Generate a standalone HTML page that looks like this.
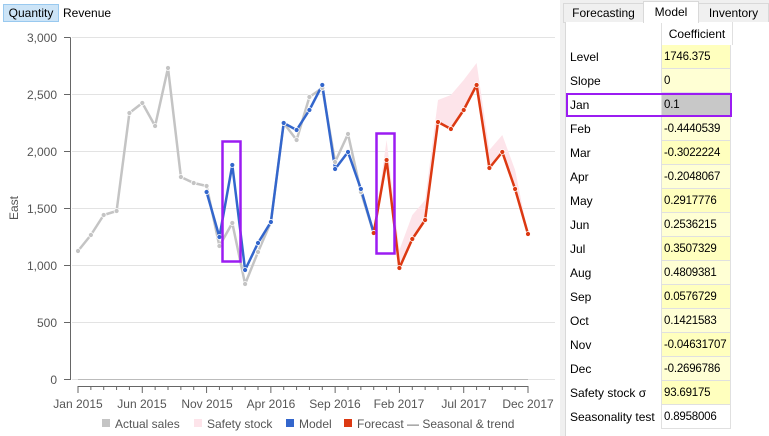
<!DOCTYPE html>
<html><head><meta charset="utf-8"><style>
body{margin:0;width:769px;height:436px;background:#fff;font-family:"Liberation Sans",sans-serif;overflow:hidden;position:relative}
.t{position:absolute;font-size:12px;color:#000}
</style></head><body>
<div style="position:absolute;left:3px;top:4px;width:54px;height:16px;background:#cce4f7;border:1px solid #99c9ef;font-size:12px;line-height:16px;text-align:center">Quantity</div>
<div class="t" style="left:63px;top:6px">Revenue</div>
<svg width="560" height="436" style="position:absolute;left:0;top:0" font-family="Liberation Sans, sans-serif">
<g stroke="#e3e3e3" stroke-width="1">
<line x1="72" x2="555" y1="37.5" y2="37.5"/><line x1="72" x2="555" y1="94.5" y2="94.5"/><line x1="72" x2="555" y1="151.5" y2="151.5"/><line x1="72" x2="555" y1="208.5" y2="208.5"/><line x1="72" x2="555" y1="265.5" y2="265.5"/><line x1="72" x2="555" y1="322.5" y2="322.5"/><line x1="72" x2="555" y1="379.5" y2="379.5"/>
</g>
<line x1="78" x2="528" y1="379.5" y2="379.5" stroke="#bbb"/>
<path d="M70.5 37.5 H64 M70.5 37.5V379.5H64" stroke="#666" fill="none"/>
<g stroke="#666"><line x1="64" x2="70" y1="94.5" y2="94.5"/><line x1="64" x2="70" y1="151.5" y2="151.5"/><line x1="64" x2="70" y1="208.5" y2="208.5"/><line x1="64" x2="70" y1="265.5" y2="265.5"/><line x1="64" x2="70" y1="322.5" y2="322.5"/></g>
<g font-size="12" fill="#555" text-anchor="end">
<text x="57" y="42">3,000</text><text x="57" y="99">2,500</text><text x="57" y="156">2,000</text><text x="57" y="213">1,500</text><text x="57" y="270">1,000</text><text x="57" y="327">500</text><text x="57" y="384">0</text>
</g>
<text x="18" y="208" font-size="12" fill="#555" transform="rotate(-90 18 208)" text-anchor="middle">East</text>
<line x1="78" x2="528" y1="386.5" y2="386.5" stroke="#666"/>
<g id="ticks" stroke="#666"></g>
<g font-size="12" fill="#555" text-anchor="middle">
<text x="78" y="408">Jan 2015</text><text x="142" y="408">Jun 2015</text><text x="207" y="408">Nov 2015</text><text x="271" y="408">Apr 2016</text><text x="335" y="408">Sep 2016</text><text x="399" y="408">Feb 2017</text><text x="464" y="408">Jul 2017</text><text x="528" y="408">Dec 2017</text>
</g>
<polygon fill="#fde4ea" points="373.7,233 386.6,140 399.4,250 412.3,215 425.1,200 438,100 450.9,95 463.7,80 476.6,63 489.4,150 502.3,135 515.1,170 528,234 515.1,189 502.3,152 489.4,168 476.6,85 463.7,110 450.9,129 438,122 425.1,220 412.3,239 399.4,268 386.6,160"/>
<g fill="none" stroke-width="2.5" stroke-linejoin="round">
<polyline stroke="#c4c4c4" points="78,251 90.9,235 103.7,215 116.6,211 129.4,113 142.3,103 155.1,126 168,68 180.9,177 193.7,183 206.6,186 219.4,246 232.3,223 245.1,284 258,252 270.9,222 283.7,123 296.6,140 309.4,97 322.3,88 335.1,162 348,134 360.9,192 373.7,233"/>
<polyline stroke="#3366cc" points="206.6,192 219.4,237 232.3,165 245.1,270 258,243 270.9,222 283.7,123 296.6,130 309.4,110 322.3,85 335.1,169 348,152 360.9,189 373.7,233"/>
<polyline stroke="#dc3912" points="373.7,233 386.6,160 399.4,268 412.3,239 425.1,220 438,122 450.9,129 463.7,110 476.6,85 489.4,168 502.3,152 515.1,189 528,234"/>
</g>
<g id="dots"></g>
<rect x="222.5" y="141.5" width="18" height="120" fill="none" stroke="#9b1cf2" stroke-width="2.5"/>
<rect x="376.5" y="133.5" width="18" height="120" fill="none" stroke="#9b1cf2" stroke-width="2.5"/>
<g font-size="12" fill="#555">
<rect x="102" y="419" width="8" height="8" fill="#c4c4c4"/><text x="115" y="428">Actual sales</text>
<rect x="194" y="419" width="8" height="8" fill="#fde4ea"/><text x="207" y="428">Safety stock</text>
<rect x="286" y="419" width="8" height="8" fill="#3366cc"/><text x="299" y="428">Model</text>
<rect x="344" y="419" width="8" height="8" fill="#dc3912"/><text x="357" y="428">Forecast — Seasonal &amp; trend</text>
</g>
</svg>
<div style="position:absolute;left:560px;top:0;width:209px;height:436px;background:#f0f0f0"></div>
<div style="position:absolute;left:563px;top:3px;width:79px;height:18px;border:1px solid #d9d9d9;background:#f0f0f0;font-size:12px;text-align:center;line-height:18px">Forecasting</div>
<div style="position:absolute;left:643px;top:1px;width:54px;height:21px;border:1px solid #d9d9d9;border-bottom:none;background:#fff;font-size:12px;text-align:center;line-height:20px;z-index:2">Model</div>
<div style="position:absolute;left:698px;top:3px;width:69px;height:18px;border:1px solid #d9d9d9;background:#f0f0f0;font-size:12px;text-align:center;line-height:18px">Inventory</div>
<div style="position:absolute;left:565px;top:22px;width:204px;height:414px;background:#fff;border-left:1px solid #d9d9d9"></div>
<div id="tbl"></div>
<script>
var t=document.getElementById('ticks'),s='';
for(var i=0;i<36;i++){var x=78+i*450/35;s+='<line x1="'+x+'" x2="'+x+'" y1="386" y2="'+(i%5==0?393:390)+'"/>';}
t.innerHTML=s;
var d=document.getElementById('dots'),h='';
document.querySelectorAll('polyline').forEach(function(p){var c=p.getAttribute('stroke');p.getAttribute('points').split(' ').forEach(function(q){var a=q.split(',');h+='<circle cx="'+a[0]+'" cy="'+a[1]+'" r="2.5" fill="'+c+'" stroke="#fff" stroke-width="0.8"/>';});});
d.innerHTML=h;
var rows=[['Level','1746.375'],['Slope','0'],['Jan','0.1'],['Feb','-0.4440539'],['Mar','-0.3022224'],['Apr','-0.2048067'],['May','0.2917776'],['Jun','0.2536215'],['Jul','0.3507329'],['Aug','0.4809381'],['Sep','0.0576729'],['Oct','0.1421583'],['Nov','-0.04631707'],['Dec','-0.2696786'],['Safety stock σ','93.69175'],['Seasonality test','0.8958006']];
var o='<div style="position:absolute;left:661px;top:22px;width:70px;height:23px;border-left:1px solid #e0e0e0;border-right:1px solid #e0e0e0;font-size:12px;text-align:center;line-height:25px">Coefficient</div>';
rows.forEach(function(r,i){var y=45+i*24;var bg=i==2?'#c8c8c8':(i==15?'#fff':(i%2?'#ffffd4':'#ffffbe'));
o+='<div class="t" style="left:570px;top:'+(y+5)+'px">'+r[0]+'</div>';
o+='<div style="position:absolute;left:661px;top:'+y+'px;width:70px;height:24px;background:'+bg+';border:1px solid #e0e0e0;border-top:none;font-size:11.5px;line-height:25px;padding-left:2px;box-sizing:border-box;white-space:nowrap;overflow:hidden;letter-spacing:-0.2px">'+r[1]+'</div>';});
o+='<div style="position:absolute;left:566px;top:93px;width:162px;height:20px;border:2px solid #9b1cf2"></div>';
document.getElementById('tbl').innerHTML=o;
</script>
</body></html>
